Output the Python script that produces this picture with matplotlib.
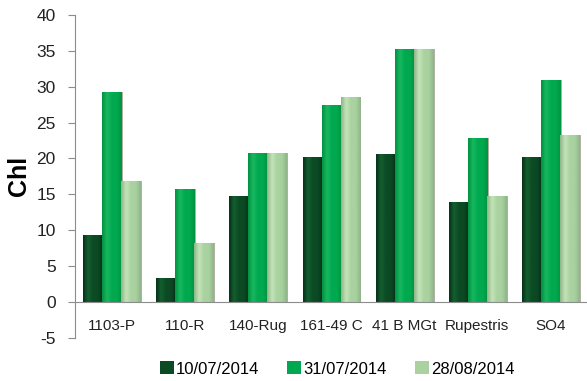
import numpy as np
import matplotlib
matplotlib.use("Agg")
import matplotlib.pyplot as plt
from matplotlib.colors import LinearSegmentedColormap
from matplotlib.patches import Patch

plt.rcParams['font.family'] = ['Liberation Sans', 'DejaVu Sans']
plt.rcParams['axes.unicode_minus'] = False

categories = ["1103-P", "110-R", "140-Rug", "161-49 C", "41 B MGt", "Rupestris", "SO4"]
series_labels = ["10/07/2014", "31/07/2014", "28/08/2014"]
s_1007 = [9.3, 3.3, 14.8, 20.2, 20.6, 14.0, 20.2]
s_3107 = [29.3, 15.7, 20.7, 27.4, 35.2, 22.9, 30.9]
s_2808 = [16.8, 8.2, 20.7, 28.6, 35.3, 14.8, 23.3]
series = [s_1007, s_3107, s_2808]
yticks = [-5, 0, 5, 10, 15, 20, 25, 30, 35, 40]

# (edge, centre, highlight) shades for each series
shades = [
    ("#06301a", "#0c4a24", "#14602f"),
    ("#00923f", "#00a94f", "#19b860"),
    ("#8fb489", "#a9d2a0", "#c4e4b8"),
]
legend_colors = ["#0c4a24", "#00a94f", "#a9d2a0"]

fig = plt.figure(figsize=(5.87, 3.81), dpi=100)
ax = fig.add_axes([0.128, 0.113, 0.872, 0.848])

x = np.arange(len(categories))
width = 0.26
offsets = [-width, 0.0, width]

for vals, off, (edge, mid, hi) in zip(series, offsets, shades):
    cmap = LinearSegmentedColormap.from_list("g", [edge, hi, mid, mid, edge])
    grad = np.linspace(0, 1, 64).reshape(1, -1)
    bars = ax.bar(x + off, vals, width, color=mid, zorder=2)
    for b in bars:
        bx, bw, bh = b.get_x(), b.get_width(), b.get_height()
        # soft shadow on the right side
        ax.add_patch(plt.Rectangle((bx + bw, 0), 0.025, bh, color="#9c9c8c",
                                   alpha=0.8, zorder=1, lw=0))
        im = ax.imshow(grad, extent=(bx, bx + bw, 0, bh), cmap=cmap,
                       aspect="auto", zorder=3, interpolation="bicubic")
        im.set_clip_path(b)

ax.set_xlim(-0.5, len(categories) - 0.5)
ax.set_ylim(-5, 40)
ax.set_yticks(yticks)
ax.set_xticks(x)
ax.set_xticklabels(categories)

for s in ("top", "right"):
    ax.spines[s].set_visible(False)
ax.spines["left"].set_color("#8c8c8c")
ax.spines["bottom"].set_position(("data", 0))
ax.spines["bottom"].set_color("#8c8c8c")
ax.spines["bottom"].set_zorder(4)
ax.tick_params(axis="x", length=0, pad=12, labelsize=11, colors="#222222")
ax.tick_params(axis="y", length=5, pad=9, color="#8c8c8c", labelsize=12.5,
               colors="#222222")
for lab in ax.get_xticklabels() + ax.get_yticklabels():
    lab.set_color("#222222")

ax.set_ylabel("Chl", fontsize=18, fontweight="bold", labelpad=4)

handles = [Patch(facecolor=c, edgecolor="none") for c in legend_colors]
fig.legend(handles, series_labels, loc="center", bbox_to_anchor=(0.574, 0.032),
           ncol=3, frameon=False, fontsize=12, handlelength=0.85,
           handleheight=0.85, handletextpad=0.1, columnspacing=1.7)

fig.savefig("out.png", dpi=100)
